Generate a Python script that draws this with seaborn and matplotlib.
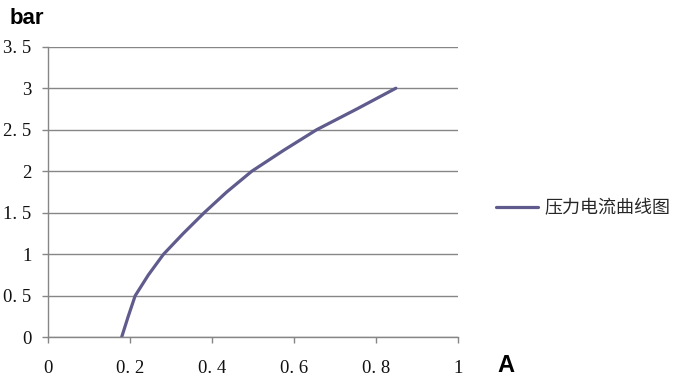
import matplotlib
matplotlib.use("Agg")
import matplotlib.pyplot as plt
import seaborn as sns
import pandas as pd
from matplotlib.ticker import FuncFormatter, MultipleLocator

current_a = [0.180, 0.196, 0.213, 0.245, 0.282, 0.330, 0.381, 0.436, 0.497, 0.574, 0.655, 0.753, 0.848]
pressure_bar = [0.0, 0.25, 0.5, 0.75, 1.0, 1.25, 1.5, 1.75, 2.0, 2.25, 2.5, 2.75, 3.0]
series_name = "压力电流曲线图"
x_label = "A"
y_label = "bar"

sns.set_theme(style="white")
plt.rcParams['font.family'] = ['Noto Sans CJK SC', 'DejaVu Sans']

df = pd.DataFrame({"current": current_a, "pressure": pressure_bar, "series": series_name})

fig = plt.figure(figsize=(6.77, 3.81), dpi=100)
ax = fig.add_axes([47.7/677, 1 - 337.3/381, (458.3-47.7)/677, (337.3-46.7)/381])

line_color = "#5f5b8c"
grid_color = "#868686"

sns.lineplot(data=df, x="current", y="pressure", hue="series", palette=[line_color],
             linewidth=2.3, ax=ax, sort=False, estimator=None)

ax.set_xlim(0, 1)
ax.set_ylim(0, 3.5)
ax.xaxis.set_major_locator(MultipleLocator(0.2))
ax.yaxis.set_major_locator(MultipleLocator(0.5))

def fmt(v, pos):
    s = f"{v:.1f}".rstrip("0").rstrip(".")
    return s.replace(".", ". ")

ax.xaxis.set_major_formatter(FuncFormatter(fmt))
ax.yaxis.set_major_formatter(FuncFormatter(fmt))

ax.grid(axis="y", color=grid_color, linewidth=1.0)
ax.grid(axis="x", visible=False)
for side in ["top", "right"]:
    ax.spines[side].set_visible(False)
for side in ["left", "bottom"]:
    ax.spines[side].set_color(grid_color)
    ax.spines[side].set_linewidth(1.0)

ax.tick_params(axis="both", direction="out", length=4.5, width=1.0, color=grid_color,
               labelcolor="#111111")
ax.tick_params(axis="x", pad=12, bottom=True)
ax.tick_params(axis="y", pad=7, left=True)
for lab in ax.get_xticklabels() + ax.get_yticklabels():
    lab.set_family("Liberation Serif")
    lab.set_fontsize(13.5)

ax.set_xlabel("")
ax.set_ylabel("")
fig.text(10/677, 1 - 19/381, y_label, fontsize=16, fontweight="bold",
         family="Liberation Sans", ha="left", va="center", color="#000000")
fig.text(497/677, 1 - 366/381, x_label, fontsize=17, fontweight="bold",
         family="Liberation Sans", ha="left", va="center", color="#000000")

handles, labels = ax.get_legend_handles_labels()
leg = ax.legend(handles, labels, loc="center left", bbox_to_anchor=(489/677, 1 - 208/381),
                bbox_transform=fig.transFigure, frameon=False, fontsize=13,
                handlelength=2.3, handletextpad=0.35, borderaxespad=0)

fig.savefig("out.png", dpi=100, facecolor="white")
